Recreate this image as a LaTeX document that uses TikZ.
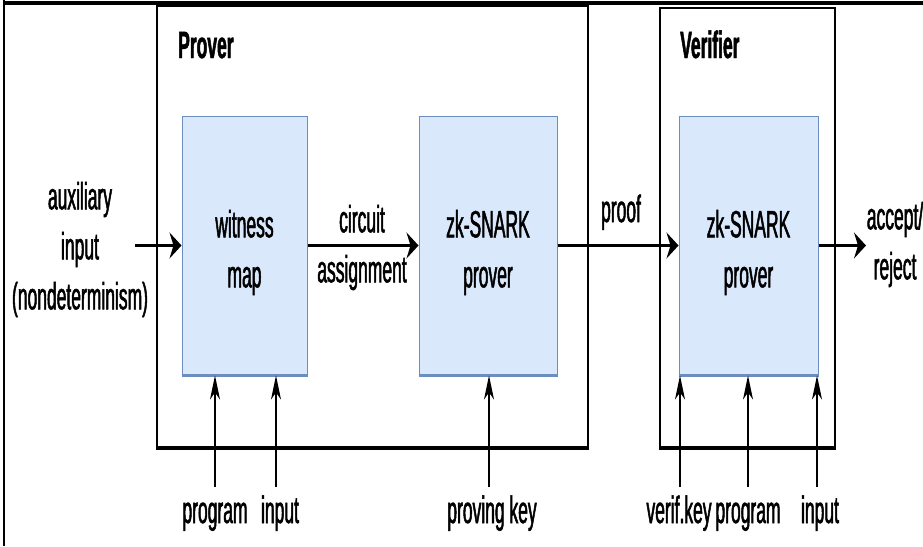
\documentclass[tikz,border=0pt]{standalone}
\usepackage{fontspec}
\setmainfont[FakeStretch=0.46, FakeBold=1.3]{Liberation Sans}
\usetikzlibrary{arrows.meta}
\definecolor{boxfill}{HTML}{DAE8FC}
\definecolor{boxline}{HTML}{6C8EBF}
\tikzset{
  x=1pt, y=-1pt,
  txt/.style={font=\fontsize{38}{50}\selectfont, inner sep=0pt, align=center},
  heading/.style={font=\fontsize{38}{50}\selectfont\bfseries, inner sep=0pt, anchor=base west},
  party/.style={draw=black, line width=1.5pt, rectangle, inner sep=0pt},
  unit/.style={draw=boxline, fill=boxfill, line width=1pt, rectangle, inner sep=0pt,
               minimum height=259pt},
  flow/.style={line width=3pt, -{Stealth[length=12pt,width=26pt,inset=4pt]}},
  feed/.style={line width=1.5pt, -{Stealth[length=24pt,width=10pt,inset=7pt]}},
}
\begin{document}
\begin{tikzpicture}
\useasboundingbox (0,0) rectangle (923,546);

% outer frame edges
\draw[line width=4pt] (923,3) -- (4,3);
\draw[line width=2pt] (4,0) -- (4,546);

% prover and verifier containers
\node[party, minimum width=431pt, minimum height=441pt] (prover) at (372.5,226.5) {};
\draw[line width=3.5pt] (prover.south west) -- (prover.south east);
\node[party, minimum width=175pt, minimum height=439pt] (verifier) at (747.5,227.5) {};
\draw[line width=3.5pt] (verifier.south west) -- (verifier.south east);
\node[heading] (provertitle) at (178,58) {Prover};
\node[heading] (verifiertitle) at (680,58) {Verifier};

% processing units
\node[unit, minimum width=125pt] (wm) at (244.5,245.5) {};
\node[unit, minimum width=138pt] (zkp) at (488,245.5) {};
\node[unit, minimum width=139pt] (zkv) at (748.5,245.5) {};
\foreach \b in {wm,zkp,zkv}
  \draw[boxline, line width=3pt] (\b.south west) -- (\b.south east);
\node[txt, yshift=-7pt] (wmtext) at (wm.center) {witness\\map};
\node[txt, yshift=-7pt] (zkptext) at (zkp.center) {zk-SNARK\\prover};
\node[txt, yshift=-7pt] (zkvtext) at (zkv.center) {zk-SNARK\\prover};

% main data flow
\coordinate (auxsrc) at (135,245.5);
\coordinate (outend) at (866,245.5);
\node[txt] (aux) at (80,249.5) {auxiliary\\input\\(nondeterminism)};
\node[txt] (circ) at (362,247.5) {circuit\\assignment};
\node[txt, anchor=base] (proof) at (621,222) {proof};
\node[txt] (result) at (895,244.5) {accept/\\reject};
\draw[flow] (auxsrc) -- (wm.west);
\draw[flow] (wm.east) -- (zkp.west);
\draw[flow] (zkp.east) -- (zkv.west);
\draw[flow] (zkv.east) -- (outend);

% public inputs from below
\node[txt, anchor=base] (prog1) at (215,523) {program};
\node[txt, anchor=base] (inp1) at (280,523) {input};
\node[txt, anchor=base] (pk) at (492,523) {proving key};
\node[txt, anchor=base] (vk) at (679,523) {verif.key};
\node[txt, anchor=base] (prog2) at (748,523) {program};
\node[txt, anchor=base] (inp2) at (820,523) {input};
\coordinate (f1) at (215,487);
\coordinate (f2) at (276,487);
\coordinate (f3) at (489,487);
\coordinate (f4) at (680,487);
\coordinate (f5) at (748,487);
\coordinate (f6) at (817,487);
\draw[feed] (f1) -- (f1 |- wm.south);
\draw[feed] (f2) -- (f2 |- wm.south);
\draw[feed] (f3) -- (f3 |- zkp.south);
\draw[feed] (f4) -- (f4 |- zkv.south);
\draw[feed] (f5) -- (f5 |- zkv.south);
\draw[feed] (f6) -- (f6 |- zkv.south);
\end{tikzpicture}
\end{document}
